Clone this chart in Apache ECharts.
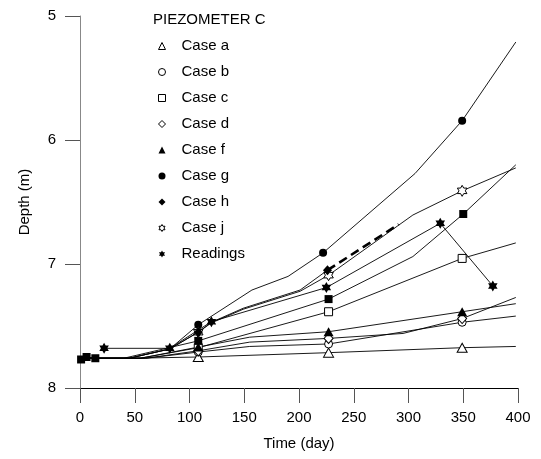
<!DOCTYPE html>
<html><head><meta charset="utf-8">
<script src="https://cdn.jsdelivr.net/npm/echarts@6/dist/echarts.min.js"></script>
<style>html,body{margin:0;padding:0;background:#fff}#c{width:541px;height:459px}</style>
</head><body><div id="c"></div>
<script>
// ---- data (day, depth m) ----
const legendTitle = 'PIEZOMETER C';
const xTicks = [0, 50, 100, 150, 200, 250, 300, 350, 400];
const yTicks = [5, 6, 7, 8];

const caseA = [[0,7.76],[60,7.758],[108,7.75],[227,7.715],[349,7.675],[398,7.665]];
const caseAMarks = [108,227,349];
const caseB = [[0,7.76],[60,7.76],[108,7.71],[155,7.665],[227,7.645],[349,7.47],[398,7.42]];
const caseBMarks = [108,227,349];
const caseC = [[0,7.76],[55,7.76],[108,7.675],[227,7.385],[349,6.955],[398,6.83]];
const caseCMarks = [108,227,349];
const caseD = [[0,7.76],[60,7.76],[108,7.70],[155,7.63],[227,7.60],[295,7.56],[349,7.44],[398,7.27]];
const caseDMarks = [108,227,349];
const caseE = [[1,7.77],[6,7.75],[14,7.76],[40,7.76],[108,7.62],[227,7.283],[304,6.94],[350,6.597],[398,6.20]];
const caseEMarks = [1,6,14,108,227,350];
const caseF = [[0,7.76],[55,7.76],[108,7.67],[155,7.59],[227,7.546],[349,7.385],[398,7.32]];
const caseFMarks = [108,227,349];
const caseG = [[0,7.76],[45,7.76],[82,7.685],[108,7.49],[157,7.21],[190,7.10],[222,6.91],[306,6.27],[349,5.844],[398,5.21]];
const caseGMarks = [108,222,349];
const caseH = [[0,7.76],[45,7.76],[82,7.685],[108,7.55],[120,7.47],[149,7.357],[201,7.21],[226,7.05]];
const caseHMarks = [108,226];
const caseHDashed = [[226,7.05],[291,6.68]];
const caseJ = [[0,7.76],[45,7.76],[82,7.685],[108,7.55],[120,7.475],[149,7.365],[201,7.22],[227,7.09],[304,6.605],[349,6.41],[398,6.225]];
const caseJMarks = [108,227,349];
const readings = [[22,7.68],[82,7.68],[120,7.465],[225,7.19],[329,6.672],[377,7.177]];
const readingsMarks = [22,82,120,225,329,377];

// ---- rendering ----
const STAR = 'path://M50 0L64.43 25L93.3 25L78.87 50L93.3 75L64.43 75L50 100L35.57 75L6.7 75L21.13 50L6.7 25L35.57 25Z';
const FONT = '"Liberation Sans", Arial, sans-serif';
const filled = {color:'#000', borderColor:'#000', borderWidth:0};
const open = {color:'#fff', borderColor:'#000', borderWidth:1};

function build(pts, marks){
  return pts.map(p => marks.includes(p[0]) ? {value:p} : {value:p, symbol:'none'});
}
function lineSeries(name, pts, marks, symbol, size, style, z){
  return {
    name, type:'line', data: build(pts, marks), symbol, symbolSize:size, symbolKeepAspect:true,
    showAllSymbol:true, animation:false, z: z||2,
    lineStyle:{color:'#000', width:0.9}, itemStyle: style
  };
}

const series = [
  lineSeries('Case a', caseA, caseAMarks, 'triangle', [10,9], open),
  lineSeries('Case b', caseB, caseBMarks, 'circle', 8, open),
  lineSeries('Case c', caseC, caseCMarks, 'rect', 8, open),
  lineSeries('Case d', caseD, caseDMarks, 'diamond', [9,10], open),
  lineSeries('Case e', caseE, caseEMarks, 'rect', 8, filled),
  lineSeries('Case f', caseF, caseFMarks, 'triangle', [10,9], filled),
  lineSeries('Case g', caseG, caseGMarks, 'circle', 8, filled),
  lineSeries('Case h', caseH, caseHMarks, 'diamond', [9,10], filled, 4),
  lineSeries('Case j', caseJ, caseJMarks, STAR, 11, open, 3),
  lineSeries('Readings', readings, readingsMarks, STAR, 11, filled, 5),
  {name:'Case h (dashed)', type:'line', data:caseHDashed, symbol:'none', animation:false, z:6,
   lineStyle:{color:'#000', width:2.6, type:[9,5]}}
];

const legendItems = [
  {name:'Case a', icon:'triangle', itemStyle:open},
  {name:'Case b', icon:'circle', itemStyle:open},
  {name:'Case c', icon:'rect', itemStyle:open},
  {name:'Case d', icon:'diamond', itemStyle:open},
  {name:'Case f', icon:'triangle', itemStyle:filled},
  {name:'Case g', icon:'circle', itemStyle:filled},
  {name:'Case h', icon:'diamond', itemStyle:filled},
  {name:'Case j', icon:STAR, itemStyle:open},
  {name:'Readings', icon:STAR, itemStyle:filled}
];

const tickStyle = {show:true, inside:false, length:15, lineStyle:{color:'#555', width:1, opacity:1}};

const chart = echarts.init(document.getElementById('c'), null, {renderer:'canvas'});
chart.setOption({
  backgroundColor:'#fff',
  animation:false,
  title:{text:legendTitle, left:148, top:7, textStyle:{fontFamily:FONT, fontSize:15, fontWeight:'normal', color:'#000'}},
  legend:{
    data:legendItems, orient:'vertical', left:153, top:33, itemWidth:7, itemHeight:7, itemGap:10,
    selectedMode:false, symbolKeepAspect:true,
    textStyle:{fontFamily:FONT, fontSize:15, color:'#000', lineHeight:16, padding:[0,0,0,11]}
  },
  grid:{left:80, right:23, top:16, bottom:71, containLabel:false},
  xAxis:{
    type:'value', min:0, max:400, interval:50, splitNumber:8,
    name:'Time (day)', nameLocation:'middle', nameGap:48,
    nameTextStyle:{fontFamily:FONT, fontSize:15, color:'#000'},
    axisLine:{show:true, lineStyle:{color:'#000', width:1}},
    axisTick:tickStyle,
    axisLabel:{fontFamily:FONT, fontSize:15, color:'#000', margin:22},
    splitLine:{show:false}
  },
  yAxis:{
    type:'value', min:5, max:8, interval:1, inverse:true,
    name:'Depth (m)', nameLocation:'middle', nameGap:48, nameRotate:90,
    nameTextStyle:{fontFamily:FONT, fontSize:15, color:'#000'},
    axisLine:{show:true, lineStyle:{color:'#888', width:1}},
    axisTick:tickStyle,
    axisLabel:{fontFamily:FONT, fontSize:15, color:'#000', margin:24},
    splitLine:{show:false}
  },
  series
});
</script></body></html>
